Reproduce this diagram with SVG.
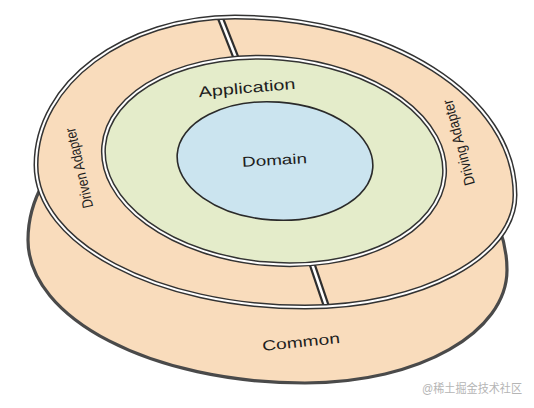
<svg xmlns="http://www.w3.org/2000/svg" width="534" height="408" viewBox="0 0 534 408">
  <defs>
    <style>
      .peach { fill: #f9dcbc; }
      .rimOuter { fill: none; stroke: #333; stroke-width: 5; }
      .rimInner { fill: none; stroke: #fff; stroke-width: 2; }
      .sepDark { stroke: #2e2e2e; stroke-width: 7; }
      .sepLight { stroke: #fff; stroke-width: 2.6; }
      .lbl { font-family: "Liberation Sans", Arial, Helvetica, sans-serif; fill: #1e1e1e; text-anchor: middle; }
    </style>
    <path id="topShape" d="M36,165 C36,83.3 125.1,17 235,17 C389.6,17 515,96.7 515,195 C515,256.9 421,307 305,307 C156.4,307 36,243.4 36,165 Z"/>
    <clipPath id="topClip">
      <use href="#topShape"/>
    </clipPath>
  </defs>

  <rect x="0" y="0" width="534" height="408" fill="#ffffff"/>

  <g id="common">
    <path d="M28,240 C28,158.3 117.1,92 227,92 C381.6,92 507,171.7 507,270 C507,331.9 420,383 305,383 C152,383 28,318.4 28,240 Z" class="peach" stroke="#4a4a4a" stroke-width="3.2"/>
    <text class="lbl" x="301" y="347" font-size="14.5" textLength="78" lengthAdjust="spacingAndGlyphs" transform="rotate(-6 301 342)">Common</text>
  </g>

  <g id="adapters">
    <use href="#topShape" class="peach"/>
    <g clip-path="url(#topClip)">
      <line x1="218" y1="12" x2="240" y2="68" class="sepDark"/>
      <line x1="218" y1="12" x2="240" y2="68" class="sepLight"/>
      <line x1="308" y1="252" x2="329" y2="314" class="sepDark"/>
      <line x1="308" y1="252" x2="329" y2="314" class="sepLight"/>
    </g>
    <use href="#topShape" class="rimOuter"/>
    <use href="#topShape" class="rimInner"/>
    <text class="lbl" x="79" y="168" dy="0.35em" font-size="15" textLength="82" lengthAdjust="spacingAndGlyphs" transform="rotate(-103 79 168)">Driven Adapter</text>
    <text class="lbl" x="458.5" y="142.5" dy="0.35em" font-size="15" textLength="88" lengthAdjust="spacingAndGlyphs" transform="rotate(-105 458.5 142.5)">Driving Adapter</text>
  </g>

  <g id="application">
    <ellipse cx="274" cy="161" rx="171" ry="103" transform="rotate(5 274 161)" fill="#e4ecca"/>
    <ellipse cx="274" cy="161" rx="171" ry="103" transform="rotate(5 274 161)" class="rimOuter"/>
    <ellipse cx="274" cy="161" rx="171" ry="103" transform="rotate(5 274 161)" class="rimInner"/>
    <text class="lbl" x="247" y="93" font-size="15" textLength="97" lengthAdjust="spacingAndGlyphs" transform="rotate(-5 247 88)">Application</text>
  </g>

  <g id="domain">
    <ellipse cx="275" cy="161" rx="98" ry="59" transform="rotate(4 275 161)" fill="#cbe4ef" stroke="#2a2a2a" stroke-width="1.6"/>
    <text class="lbl" x="274.5" y="165" font-size="14" textLength="65" lengthAdjust="spacingAndGlyphs" transform="rotate(-3 274.5 160)">Domain</text>
  </g>

  <g id="watermark">
    <text x="422" y="393" font-family="'Liberation Sans', 'Noto Sans CJK SC', sans-serif" font-size="12" fill="#b5b5b5" textLength="100" lengthAdjust="spacingAndGlyphs">@稀土掘金技术社区</text>
  </g>
</svg>
